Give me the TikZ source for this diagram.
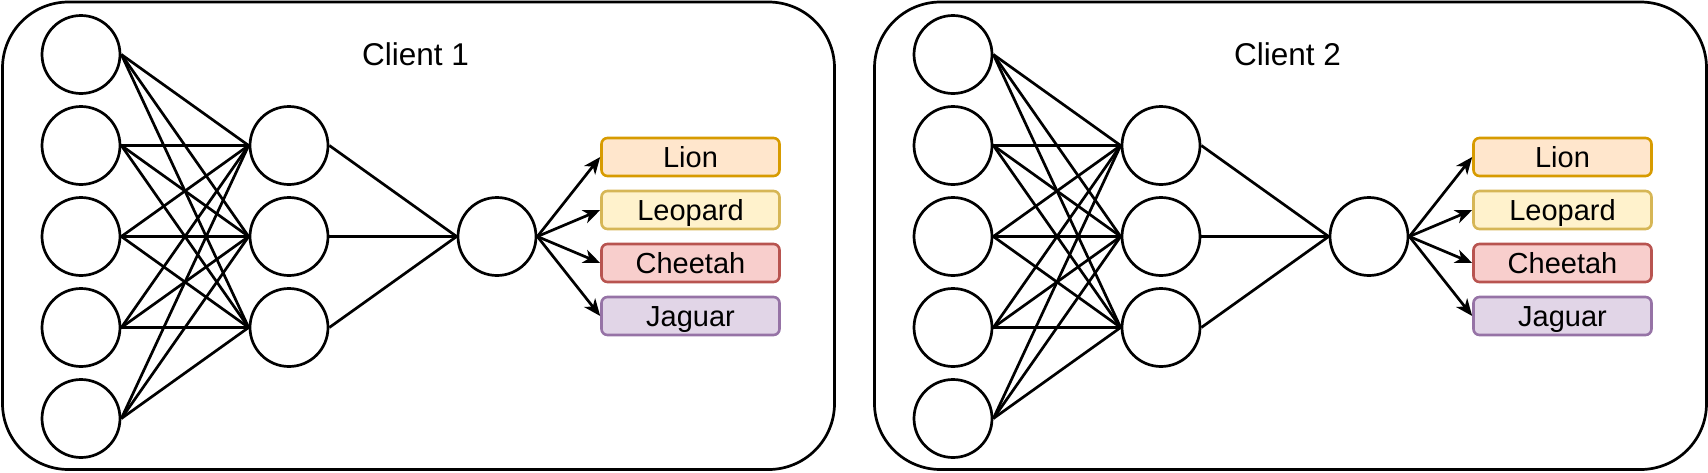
\documentclass[tikz,border=0pt]{standalone}
\usepackage{fontspec}
\setmainfont{Liberation Sans}
\usetikzlibrary{arrows.meta}
\definecolor{lionfill}{HTML}{FFE6CC}
\definecolor{lionline}{HTML}{D79B00}
\definecolor{leofill}{HTML}{FFF2CC}
\definecolor{leoline}{HTML}{D6B656}
\definecolor{chefill}{HTML}{F8CECC}
\definecolor{cheline}{HTML}{B85450}
\definecolor{jagfill}{HTML}{E1D5E7}
\definecolor{jagline}{HTML}{9673A6}
\tikzset{
 neuron/.style={circle,draw,line width=2.7pt,minimum size=78pt,inner sep=0pt},
 conn/.style={line width=2.7pt},
 arr/.style={line width=2.7pt,-{Stealth[length=17pt,width=14pt,inset=5pt]}},
 classbox/.style={rectangle,rounded corners=6pt,line width=2.6pt,minimum width=178pt,minimum height=38pt,inner sep=0pt,text height=20.8pt,text depth=0pt,font=\fontsize{29}{34}\selectfont},
 panel/.style={draw,line width=2.7pt,rounded corners=66pt,inner sep=0pt},
 paneltitle/.style={anchor=base,font=\fontsize{31.5}{36}\selectfont,inner sep=0pt}
}
\newcommand\clientpanel[2]{%
 \node[panel,minimum width=832pt,minimum height=467.5pt] (#1box) at (418.5,235.75) {};
 \node[paneltitle] (#1title) at (415.5,65) {#2};
 \foreach \k/\yy in {1/54.5,2/145.5,3/236.5,4/327.5,5/418.5}
   \node[neuron] (#1i\k) at (81,\yy) {};
 \foreach \k/\yy in {1/145.5,2/236.5,3/327.5}
   \node[neuron] (#1h\k) at (289,\yy) {};
 \node[neuron] (#1o) at (497,236.5) {};
 \foreach \a in {1,...,5}
   \foreach \b in {1,2,3}
     \draw[conn] (#1i\a.east) -- (#1h\b.west);
 \foreach \b in {1,2,3}
   \draw[conn] (#1h\b.east) -- (#1o.west);
 \node[classbox,fill=lionfill,draw=lionline] (#1lion) at (690.5,157) {Lion};
 \node[classbox,fill=leofill,draw=leoline] (#1leo) at (690.5,210) {Leopard};
 \node[classbox,fill=chefill,draw=cheline] (#1che) at (690.5,263) {Cheetah};
 \node[classbox,fill=jagfill,draw=jagline] (#1jag) at (690.5,316) {Jaguar};
 \draw[arr] (#1o.east) -- (#1lion.west);
 \draw[arr] (#1o.east) -- (#1leo.west);
 \draw[arr] (#1o.east) -- (#1che.west);
 \draw[arr] (#1o.east) -- (#1jag.west);
}
\begin{document}
\begin{tikzpicture}[x=1pt,y=-1pt]
 \useasboundingbox (0,0) rectangle (1708,472);
 \clientpanel{a}{Client 1}
 \begin{scope}[xshift=872pt]
  \clientpanel{b}{Client 2}
 \end{scope}
\end{tikzpicture}
\end{document}
